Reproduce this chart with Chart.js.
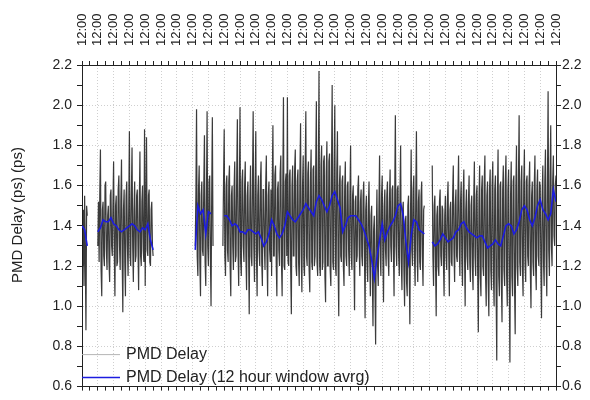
<!DOCTYPE html>
<html>
<head>
<meta charset="utf-8">
<script src="https://cdn.jsdelivr.net/npm/chart.js@4.4.1/dist/chart.umd.min.js"></script>
<style>
  html, body { margin: 0; padding: 0; background: #fff; }
  #wrap { width: 590px; height: 400px; }
</style>
</head>
<body>
<div id="wrap"><canvas id="pmdChart" width="590" height="400"></canvas></div>
<script>
// time in hours, 0 = 12:00 of the first day, one tick label per day
const topLabel = '12:00';
const yTitle = 'PMD Delay (ps) (ps)';
const seriesNames = ['PMD Delay', 'PMD Delay (12 hour window avrg)'];

// PMD Delay, one sample per hour (one row = one day, 12:00 to 11:00)
const pmd = [
  1.62, 1.20, 1.48, 1.10, 1.55, 1.25, 0.88, 1.50, 1.45, null, null, null, null, null, null, null, null, null, null, null, null, null, null, null,
  1.30, 1.52, 1.22, 1.55, 1.78, 1.18, 1.05, 1.48, 1.52, 1.25, 1.20, 1.60, 1.62, 1.28, 1.18, 1.45, 1.50, 1.22, 1.12, 1.55, 1.58, 1.30, 1.25, 1.50,
  1.72, 1.28, 1.05, 1.50, 1.55, 1.20, 1.22, 1.58, 1.65, 1.30, 1.18, 1.52, 1.73, 1.25, 0.97, 1.48, 1.58, 1.22, 1.05, 1.55, 1.62, 1.30, 1.15, 1.50,
  1.87, 1.25, 1.20, 1.56, 1.79, 1.30, 1.12, 1.48, 1.62, 1.22, 1.25, 1.55, 1.58, 1.30, 1.08, 1.50, 1.77, 1.25, 1.20, 1.52, 1.60, 1.28, 1.22, 1.88,
  1.10, 1.50, 1.84, 1.28, 1.25, 1.55, 1.58, 1.22, 1.20, 1.48, 1.52, 1.30, 1.25, null, null, null, null, null, null, null, null, null, null, null,
  null, null, null, null, null, null, null, null, null, null, null, null, null, null, null, null, null, null, null, null, null, null, null, null,
  null, null, null, null, null, null, null, null, null, null, null, null, null, null, null, null, null, null, null, null, null, null, null, null,
  null, null, null, null, 1.30, 1.55, 1.98, 1.25, 1.15, 1.58, 1.70, 1.22, 1.05, 1.55, 1.62, 1.28, 1.25, 1.60, 1.85, 1.22, 1.10, 1.52, 1.97, 1.30,
  1.20, 1.62, 1.65, 1.25, 1.00, 1.55, 1.94, 1.30, null, null, null, null, null, null, null, null, null, null, null, null, null, null, 1.30, 1.62,
  1.88, 1.25, 1.15, 1.60, 1.65, 1.28, 1.22, 1.62, 1.70, 1.20, 1.05, 1.55, 1.60, 1.30, 1.18, 1.58, 1.72, 1.22, 1.25, 1.65, 1.93, 1.28, 1.10, 1.55,
  1.99, 1.22, 1.15, 1.62, 1.68, 1.30, 1.22, 1.60, 1.72, 1.25, 1.08, 1.55, 1.62, 1.28, 0.96, 1.52, 1.70, 1.25, 1.20, 1.62, 1.97, 1.30, 1.12, 1.58,
  1.87, 1.25, 1.05, 1.55, 1.65, 1.28, 1.20, 1.62, 1.72, 1.22, 1.10, 1.58, 1.58, 1.30, 1.18, 1.60, 1.75, 1.25, 1.05, 1.55, 1.62, 1.28, 1.22, 1.58,
  1.15, 1.60, 1.90, 1.25, 1.25, 1.65, 1.70, 1.22, 1.05, 1.58, 1.62, 1.28, 1.20, 1.66, 1.75, 1.22, 1.05, 1.60, 2.04, 1.20, 1.18, 1.62, 1.66, 1.25,
  2.04, 1.22, 1.20, 1.65, 1.68, 1.18, 0.96, 1.60, 1.70, 1.25, 1.25, 1.68, 1.78, 1.20, 1.15, 1.62, 1.68, 1.22, 1.10, 1.65, 1.91, 1.25, 1.07, 1.60,
  1.75, 1.20, 1.15, 1.68, 1.97, 1.25, 1.20, 1.66, 1.72, 1.18, 1.07, 1.62, 1.78, 1.22, 1.18, 1.68, 1.70, 1.20, 1.25, 1.70, 2.02, 1.22, 1.15, 1.65,
  2.17, 1.20, 1.15, 1.70, 1.80, 1.18, 1.22, 1.72, 1.75, 1.15, 1.02, 1.66, 1.82, 1.20, 1.20, 1.72, 1.76, 1.18, 1.10, 1.68, 2.10, 1.22, 1.18, 1.70,
  2.00, 1.20, 1.15, 1.66, 1.87, 1.22, 0.95, 1.60, 1.70, 1.25, 1.22, 1.62, 1.65, 1.20, 1.10, 1.58, 1.72, 1.25, 1.20, 1.60, 1.62, 1.28, 1.15, 1.55,
  1.80, 1.25, 1.18, 1.55, 1.60, 1.28, 0.98, 1.52, 1.55, 1.22, 1.25, 1.58, 1.65, 1.30, 1.15, 1.52, 1.58, 1.25, 1.20, 1.55, 1.62, 1.28, 0.94, 1.48,
  1.55, 1.20, 1.12, 1.50, 1.62, 1.25, 1.05, 1.45, 1.50, 1.15, 0.90, 1.38, 1.45, 1.10, 0.81, 1.35, 1.58, 1.20, 1.10, 1.48, 1.75, 1.25, 1.15, 1.55,
  1.65, 1.25, 1.02, 1.50, 1.58, 1.28, 1.20, 1.55, 1.62, 1.25, 1.15, 1.52, 1.68, 1.30, 1.22, 1.58, 1.60, 1.28, 1.05, 1.55, 1.95, 1.30, 1.20, 1.58,
  1.60, 1.25, 1.15, 1.55, 1.80, 1.22, 1.08, 1.48, 1.52, 1.18, 1.00, 1.42, 1.45, 1.12, 1.05, 1.50, 1.55, 1.20, 0.91, 1.45, 1.78, 1.28, 1.20, 1.58,
  1.65, 1.25, 1.10, 1.55, 1.87, 1.28, 1.12, 1.52, 1.58, 1.22, 1.18, 1.55, 1.62, 1.25, 1.10, 1.48, 1.50, null, null, null, null, null, null, null,
  null, null, null, null, 1.70, 1.25, 1.10, 1.50, 1.55, 1.22, 0.95, 1.45, 1.50, 1.20, 1.15, 1.52, 1.58, 1.25, 1.20, 1.50, 1.48, 1.22, 1.05, 1.45,
  1.55, 1.25, 1.18, 1.52, 1.62, 1.28, 1.05, 1.48, 1.52, 1.22, 1.20, 1.55, 1.70, 1.28, 1.12, 1.50, 1.58, 1.25, 1.22, 1.55, 1.75, 1.30, 1.15, 1.52,
  1.62, 1.22, 1.10, 1.55, 1.68, 1.28, 1.00, 1.48, 1.58, 1.25, 1.18, 1.52, 1.65, 1.22, 1.12, 1.50, 1.55, 1.20, 1.08, 1.52, 1.72, 1.25, 1.15, 1.55,
  1.60, 1.18, 0.87, 1.52, 1.70, 1.15, 1.05, 1.58, 1.65, 1.20, 1.15, 1.62, 1.75, 1.15, 1.00, 1.55, 1.62, 1.12, 0.95, 1.58, 1.68, 1.18, 1.08, 1.60,
  1.72, 1.15, 1.00, 1.58, 1.65, 1.10, 0.73, 1.55, 1.78, 1.15, 1.05, 1.60, 1.62, 1.12, 0.92, 1.58, 1.70, 1.18, 1.10, 1.62, 1.75, 1.15, 1.00, 1.58,
  1.68, 1.12, 0.72, 1.55, 1.72, 1.15, 1.05, 1.62, 1.65, 1.10, 0.86, 1.58, 1.80, 1.20, 1.10, 1.65, 1.95, 1.22, 1.15, 1.62, 1.70, 1.18, 1.05, 1.60,
  1.78, 1.20, 1.12, 1.62, 1.65, 1.25, 1.20, 1.60, 1.72, 1.18, 0.99, 1.55, 1.62, 1.22, 1.15, 1.60, 1.75, 1.20, 1.08, 1.58, 1.68, 1.25, 1.20, 1.62,
  1.60, 1.20, 0.94, 1.55, 1.70, 1.22, 1.10, 1.62, 1.78, 1.25, 1.05, 1.60, 2.07, 1.28, 1.15, 1.65, 1.90, 1.30, 1.20, 1.62, 1.75, 1.35, 1.30, 1.60,
  1.65
];

// 12 hour window average, every 4 hours (one row = one day)
const pmdAvg = [
  1.40, 1.38, 1.30, null, null, null,
  1.37, 1.39, 1.43, 1.42, 1.42, 1.44,
  1.41, 1.40, 1.38, 1.37, 1.38, 1.39,
  1.40, 1.41, 1.40, 1.38, 1.37, 1.39,
  1.38, 1.41, 1.33, 1.28, null, null,
  null, null, null, null, null, null,
  null, null, null, null, null, null,
  null, 1.28, 1.50, 1.46, 1.48, 1.36,
  1.47, 1.46, null, null, null, null,
  1.45, 1.45, 1.43, 1.40, 1.41, 1.40,
  1.37, 1.37, 1.36, 1.38, 1.38, 1.37,
  1.36, 1.37, 1.34, 1.30, 1.32, 1.36,
  1.43, 1.40, 1.36, 1.34, 1.36, 1.40,
  1.47, 1.45, 1.43, 1.42, 1.44, 1.46,
  1.48, 1.51, 1.49, 1.47, 1.45, 1.52,
  1.55, 1.53, 1.50, 1.47, 1.50, 1.55,
  1.57, 1.53, 1.49, 1.37, 1.40, 1.44,
  1.45, 1.45, 1.45, 1.43, 1.41, 1.38,
  1.34, 1.30, 1.23, 1.14, 1.24, 1.33,
  1.41, 1.33, 1.37, 1.40, 1.42, 1.45,
  1.50, 1.51, 1.45, 1.32, 1.22, 1.35,
  1.43, 1.42, 1.38, 1.37, 1.36, null,
  null, 1.32, 1.30, 1.31, 1.33, 1.36,
  1.34, 1.32, 1.33, 1.34, 1.37, 1.38,
  1.41, 1.42, 1.39, 1.37, 1.36, 1.35,
  1.34, 1.35, 1.35, 1.32, 1.29, 1.30,
  1.31, 1.33, 1.31, 1.30, 1.35, 1.40,
  1.41, 1.40, 1.36, 1.38, 1.42, 1.48,
  1.50, 1.48, 1.43, 1.40, 1.44, 1.50,
  1.53, 1.48, 1.46, 1.43, 1.46, 1.58,
  1.52
];

const pmdHours = pmd.map((v, i) => i);
const avgHours = pmdAvg.map((v, i) => i * 4);

const FONT = '"Liberation Sans", Arial, sans-serif';
Chart.defaults.font.family = FONT;
Chart.defaults.font.size = 14;
Chart.defaults.color = '#222';

const isMajorY = v => Math.round(v * 10) % 2 === 0;

// axis title and the legend are drawn inside the plot, like the original
const overlay = {
    id: 'overlay',
    afterDraw(chart) {
        const c = chart.ctx;
        const a = chart.chartArea;
        c.save();
        c.fillStyle = '#222';
        c.font = '15px ' + FONT;
        c.textAlign = 'center';
        c.textBaseline = 'middle';
        c.translate(18, 215);
        c.rotate(-Math.PI / 2);
        c.fillText(yTitle, 0, 0);
        c.restore();

        const rows = [
            { y: a.bottom - 32, color: '#b5b5b5', width: 1 },
            { y: a.bottom - 9, color: '#1c1ce0', width: 1.5 }
        ];
        c.save();
        c.font = '16px ' + FONT;
        c.textAlign = 'left';
        c.textBaseline = 'middle';
        rows.forEach((r, i) => {
            c.strokeStyle = r.color;
            c.lineWidth = r.width;
            c.beginPath();
            c.moveTo(a.left, r.y);
            c.lineTo(a.left + 38, r.y);
            c.stroke();
            c.fillStyle = '#222';
            c.fillText(seriesNames[i], a.left + 44, r.y);
        });
        c.restore();
    }
};

const ctx = document.getElementById('pmdChart').getContext('2d');
const pmdChart = new Chart(ctx, {
    type: 'line',
    data: {
        datasets: [{
            label: seriesNames[0],
            data: pmdHours.map((h, i) => ({ x: h, y: pmd[i] })),
            borderColor: 'rgba(25, 25, 25, 0.85)',
            borderWidth: 1.2,
            tension: 0.0001, // keeps the plain zigzag path instead of the per-pixel fast path
            pointRadius: 0,
            order: 1
        }, {
            label: seriesNames[1],
            data: avgHours.map((h, i) => ({ x: h, y: pmdAvg[i] })),
            borderColor: '#1c1ce0',
            borderWidth: 1.6,
            pointRadius: 0,
            order: 0
        }]
    },
    options: {
        responsive: false,
        animation: false,
        layout: { padding: 0 },
        plugins: {
            legend: { display: false },
            tooltip: { enabled: false }
        },
        scales: {
            x: {
                type: 'linear',
                position: 'bottom',
                min: 0,
                max: 720,
                ticks: { stepSize: 12, display: false },
                grid: {
                    color: c => (c.tick && c.tick.value % 24 === 0) ? '#cfcfcf' : 'rgba(0,0,0,0)',
                    tickColor: '#222',
                    tickLength: 4
                },
                border: { color: '#222', dash: [1, 2] },
                afterFit: s => { s.height = 5; }
            },
            x2: {
                type: 'linear',
                position: 'top',
                min: 0,
                max: 720,
                ticks: {
                    stepSize: 12,
                    autoSkip: false,
                    minRotation: 90,
                    maxRotation: 90,
                    padding: 15,
                    labelOffset: 15.6,
                    font: { size: 13 },
                    callback: v => (v % 24 === 0 ? topLabel : '')
                },
                grid: { drawOnChartArea: false, tickColor: '#222', tickLength: 4 },
                border: { color: '#222' },
                afterFit: s => { s.height = 65; }
            },
            y: {
                position: 'left',
                min: 0.6,
                max: 2.2,
                ticks: {
                    stepSize: 0.1,
                    padding: 5,
                    callback: v => (isMajorY(v) ? v.toFixed(1) : '')
                },
                grid: {
                    color: c => (c.tick && isMajorY(c.tick.value)) ? '#cfcfcf' : 'rgba(0,0,0,0)',
                    tickColor: '#222',
                    tickLength: 5
                },
                border: { color: '#222', dash: [1, 2] },
                afterFit: s => { s.width = 82; }
            },
            y2: {
                position: 'right',
                min: 0.6,
                max: 2.2,
                ticks: {
                    stepSize: 0.1,
                    padding: 1,
                    callback: v => (isMajorY(v) ? v.toFixed(1) : '')
                },
                grid: { drawOnChartArea: false, tickColor: '#222', tickLength: 5 },
                border: { color: '#222' },
                afterFit: s => { s.width = 34; }
            }
        }
    },
    plugins: [overlay]
});
</script>
</body>
</html>
